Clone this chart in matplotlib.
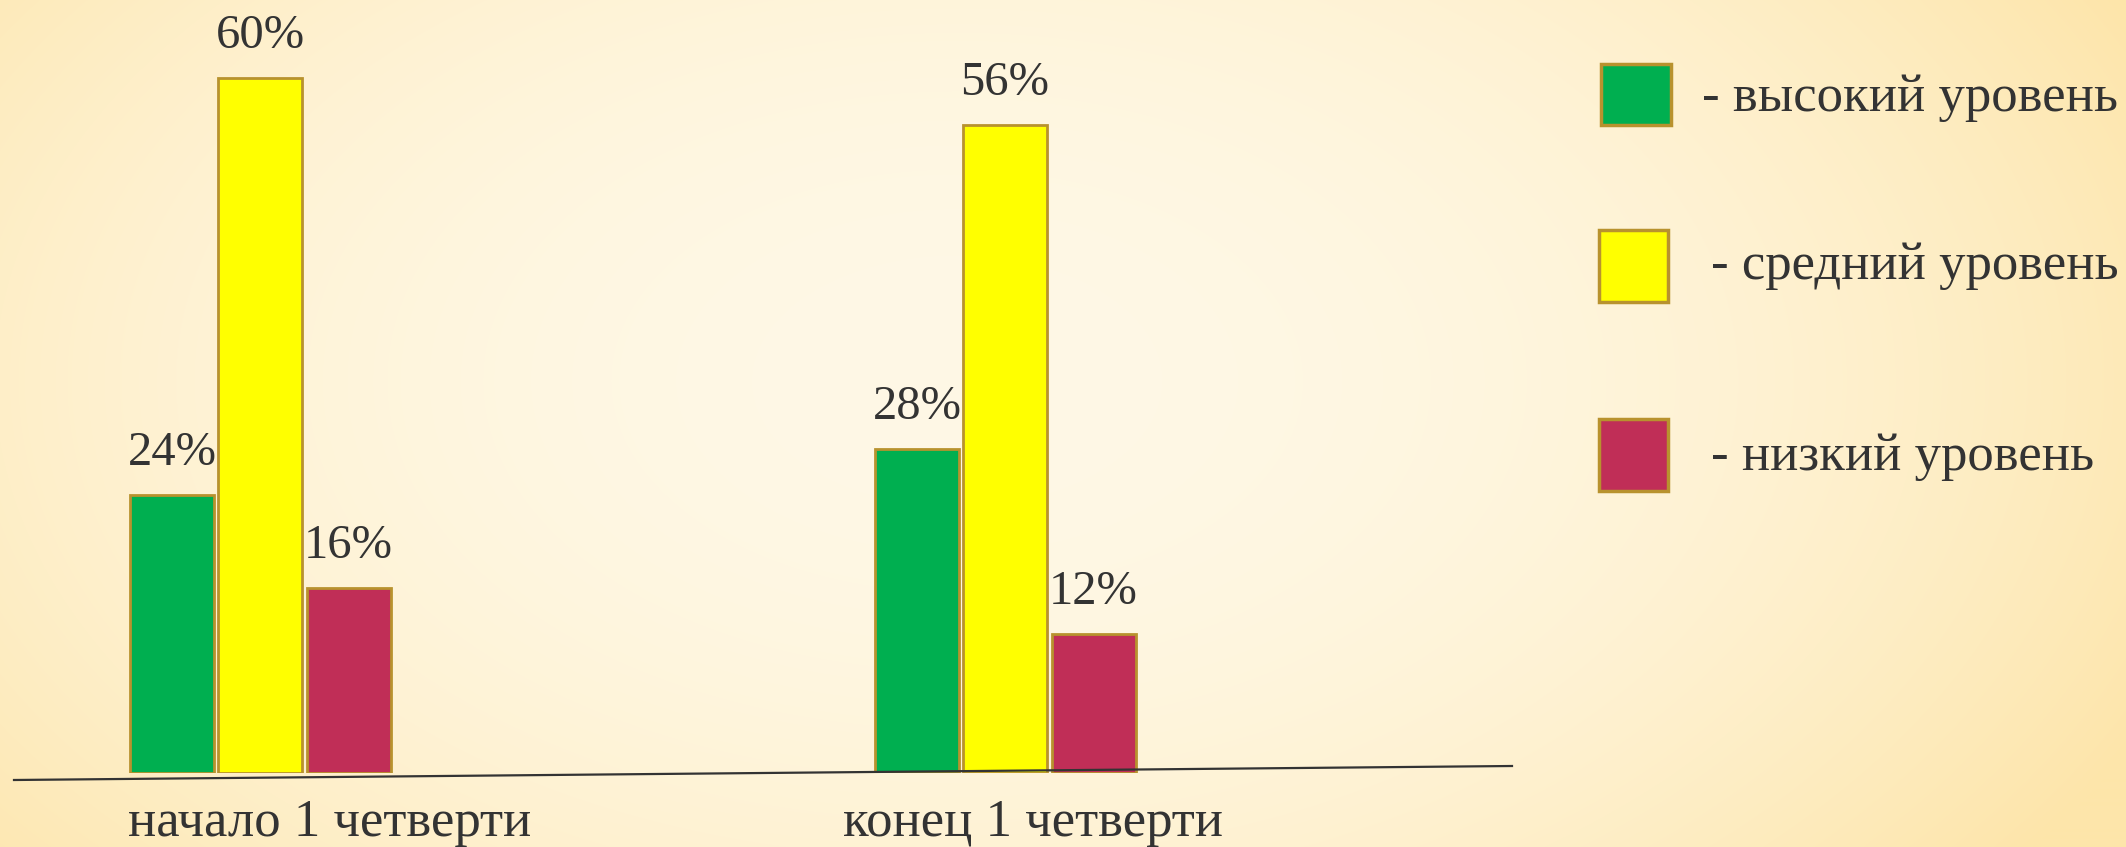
import numpy as np
import matplotlib
matplotlib.use("Agg")
import matplotlib.pyplot as plt
from matplotlib.patches import Rectangle
from matplotlib.lines import Line2D

# ---- data ----
categories = ["начало 1 четверти", "конец 1 четверти"]
series_names = ["- высокий уровень", "- средний уровень", "- низкий уровень"]
high_vals = [24, 28]
mid_vals = [60, 56]
low_vals = [16, 12]
value_labels = [["24%", "28%"], ["60%", "56%"], ["16%", "12%"]]

colors = ["#00AF50", "#FFFF00", "#C02E57"]
edge = "#B8922E"
text_color = "#333333"
FONT = ["Liberation Serif", "DejaVu Serif"]

W, H = 2126, 847
fig = plt.figure(figsize=(W / 100, H / 100), dpi=100)

def fx(x):
    return x / W

def fy(y_top):
    return 1 - y_top / H

# background radial gradient
bg = fig.add_axes([0, 0, 1, 1], zorder=-10)
yy, xx = np.mgrid[0:H, 0:W]
r = np.sqrt(((xx - W * 0.45) / (W * 0.62)) ** 2 + ((yy - H * 0.45) / (H * 0.95)) ** 2)
r = np.clip(r, 0, 1) ** 2.2
c_in = np.array([255, 248, 230]) / 255
c_out = np.array([253, 229, 170]) / 255
img = c_in[None, None, :] * (1 - r[..., None]) + c_out[None, None, :] * r[..., None]
bg.imshow(img, aspect="auto", extent=[0, 1, 0, 1])
bg.axis("off")

# main axes
base_px = 773
ax_h = 770
ax = fig.add_axes([0, fy(base_px), 1512 / W, ax_h / H])
ax.patch.set_alpha(0)
ax.set_ylim(0, 66.5)
px_per_unit = 745
ax.set_xlim(-260 / px_per_unit, (1512 - 260) / px_per_unit)

x = np.arange(len(categories))
width = 0.113
offsets = [-0.118, 0.0, 0.119]
all_vals = [high_vals, mid_vals, low_vals]
for i, vals in enumerate(all_vals):
    bars = ax.bar(x + offsets[i], vals, width, color=colors[i], edgecolor=edge,
                  linewidth=2, zorder=3)
    for j, b in enumerate(bars):
        ax.annotate(value_labels[i][j], (b.get_x() + b.get_width() / 2, b.get_height()),
                    xytext=(0, 42), textcoords="offset pixels", ha="center", va="center",
                    fontsize=35, family=FONT, color=text_color)

# category labels
label_shift = [70, 28]
for j, cat in enumerate(categories):
    ax.annotate(cat, (x[j], 0), xytext=(label_shift[j], -50), textcoords="offset pixels",
                ha="center", va="center", fontsize=38, family=FONT, color=text_color,
                annotation_clip=False)

ax.set_xticks([])
ax.set_yticks([])
for s in ax.spines.values():
    s.set_visible(False)

# slightly tilted baseline
fig.add_artist(Line2D([fx(14), fx(1512)], [fy(780), fy(766)], color="#333333", lw=1.6, zorder=5))

# legend (manual)
leg_boxes = [(1601, 64, 70, 61), (1599, 230, 69, 72), (1599, 419, 69, 72)]
leg_text = [(1702, 98), (1711, 266), (1711, 457)]
for i in range(3):
    bx, by, bw, bh = leg_boxes[i]
    fig.add_artist(Rectangle((fx(bx), fy(by + bh)), bw / W, bh / H, transform=fig.transFigure,
                             facecolor=colors[i], edgecolor=edge, linewidth=2.5))
    tx, ty = leg_text[i]
    fig.text(fx(tx), fy(ty), series_names[i], ha="left", va="center", fontsize=38,
             family=FONT, color=text_color)

fig.savefig("out.png", dpi=100)
